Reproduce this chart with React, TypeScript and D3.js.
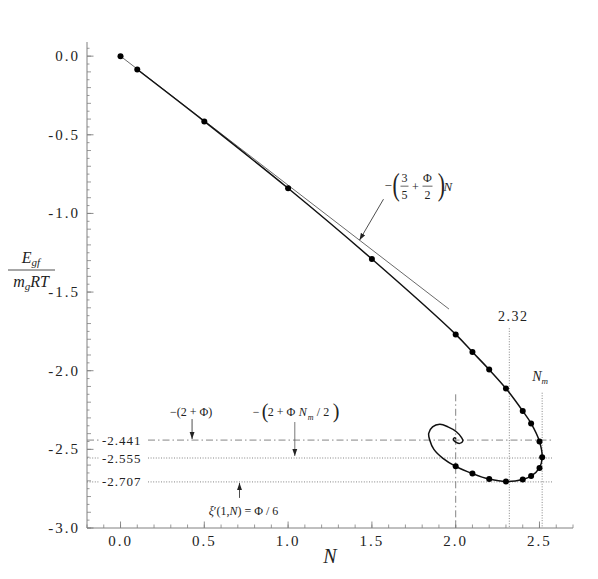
import React from "react";
import * as d3 from "d3";

// ---- data ----
const dotN = [0, 0.1, 0.5, 1.0, 1.5, 2.0, 2.1, 2.2, 2.3, 2.4, 2.45, 2.5, 2.516, 2.5, 2.45, 2.4, 2.3, 2.2, 2.1, 2.0];
const dotE = [0, -0.085, -0.415, -0.84, -1.29, -1.769, -1.881, -1.993, -2.113, -2.256, -2.335, -2.45, -2.55, -2.618, -2.67, -2.691, -2.705, -2.689, -2.654, -2.608];

// spiral continuation after the last dot
const spiralN = [1.924, 1.87, 1.845, 1.839, 1.862, 1.905, 1.954, 2.004, 2.034, 2.043, 2.024, 1.998, 1.986, 1.992, 2.003];
const spiralE = [-2.557, -2.5, -2.44, -2.399, -2.357, -2.341, -2.357, -2.388, -2.424, -2.446, -2.462, -2.452, -2.437, -2.427, -2.432];

// straight asymptote -(3/5+Φ/2)N
const tangentN = [0, 1.96];
const tangentE = [0, -1.608];

const refYValues = [-2.441, -2.555, -2.707];
const refYLabels = ["-2.441", "-2.555", "-2.707"];
const refYStyle = ["dashdot", "dot", "dot"];
const refXValues = [2.0, 2.32, 2.516];
const refXTop = [-2.15, -1.73, -2.14];
const refXStyle = ["dashdot", "dot", "dot"];

const xMajor = [0, 0.5, 1.0, 1.5, 2.0, 2.5];
const yMajor = [0, -0.5, -1.0, -1.5, -2.0, -2.5, -3.0];

const W = 598, H = 579;
const x = d3.scaleLinear().domain([-0.2, 2.7]).range([87, 573]);
const y = d3.scaleLinear().domain([-3.0, 0.09]).range([528, 42]);

const AX = "#808080";
const REF = "#777";
const serif = "'Liberation Serif', 'DejaVu Serif', serif";

export default function App() {
  const mainPts: [number, number][] = [];
  for (let i = 1; i < dotN.length; i++) mainPts.push([dotN[i], dotE[i]]);
  for (let i = 0; i < spiralN.length; i++) mainPts.push([spiralN[i], spiralE[i]]);
  const line = d3
    .line<[number, number]>()
    .x((d) => x(d[0]))
    .y((d) => y(d[1]))
    .curve(d3.curveCatmullRom.alpha(0.5));
  const mainPath = line(mainPts) || "";
  const tanPath =
    d3
      .line<[number, number]>()
      .x((d) => x(d[0]))
      .y((d) => y(d[1]))(tangentN.map((n, i) => [n, tangentE[i]])) || "";

  // ticks
  const xMinor: number[] = [];
  for (let k = -2; k <= 27; k++) xMinor.push(k / 10);
  const yMinor: number[] = [];
  for (let k = -60; k <= 1; k++) yMinor.push(k / 20);

  const dash = (s: string) => (s === "dashdot" ? "7,3,1.5,3" : "1,1.6");

  const x0 = x(-0.2);
  const yb = y(-3.0);

  // annotation anchors (data space)
  const a1 = { n: 1.426, e: -1.17 };
  const a2n = 0.427;
  const a3n = 1.04;
  const a4n = 0.71;

  const labelGapL = 100, labelGapR = 148;

  return (
    <svg width={W} height={H} style={{ display: "block", position: "absolute", left: 0, top: 0 }}>
      <defs>
        <marker id="ah" viewBox="0 0 10 10" refX="10" refY="5" markerWidth="7" markerHeight="7" orient="auto-start-reverse" markerUnits="userSpaceOnUse">
          <path d="M0,1.5 L10,5 L0,8.5 z" fill="#222" />
        </marker>
      </defs>
      <rect width={W} height={H} fill="#fff" />

      {/* reference horizontal lines */}
      {refYValues.map((v, i) => (
        <g key={"ry" + i} stroke={REF} strokeWidth={0.9} strokeDasharray={dash(refYStyle[i])}>
          <line x1={x0} x2={labelGapL} y1={y(v)} y2={y(v)} />
          <line x1={labelGapR} x2={x(2.7) - 20} y1={y(v)} y2={y(v)} />
        </g>
      ))}
      {refYValues.map((v, i) => (
        <text key={"ryl" + i} x={102} y={y(v) + 4.5} fontFamily={serif} fontSize={13} letterSpacing={1} fill="#222">
          {refYLabels[i]}
        </text>
      ))}
      {/* reference vertical lines */}
      {refXValues.map((v, i) => (
        <line key={"rx" + i} x1={x(v)} x2={x(v)} y1={y(refXTop[i])} y2={yb} stroke={REF} strokeWidth={0.9} strokeDasharray={dash(refXStyle[i])} />
      ))}
      <text x={x(2.32) + 4} y={y(-1.73) - 7} textAnchor="middle" fontFamily={serif} fontSize={14} letterSpacing={1.5} fill="#222">2.32</text>
      <text x={x(2.516) - 2} y={y(-2.14) - 12} textAnchor="middle" fontFamily={serif} fontSize={14} fill="#222">
        <tspan fontStyle="italic">N</tspan>
        <tspan fontStyle="italic" fontSize={9} dy={3}>m</tspan>
      </text>

      {/* tangent line */}
      <path d={tanPath} fill="none" stroke="#444" strokeWidth={0.8} />
      {/* main curve */}
      <path d={mainPath} fill="none" stroke="#111" strokeWidth={1.5} />
      {dotN.map((n, i) => (
        <circle key={"d" + i} cx={x(n)} cy={y(dotE[i])} r={3} fill="#000" />
      ))}

      {/* axes */}
      <line x1={x0} x2={x0} y1={y(0.09)} y2={yb} stroke={AX} strokeWidth={1} />
      <line x1={x0} x2={x(2.7)} y1={yb} y2={yb} stroke={AX} strokeWidth={1} />
      {xMinor.map((v, i) => (
        <line key={"xm" + i} x1={x(v)} x2={x(v)} y1={yb} y2={yb - 3.5} stroke={AX} strokeWidth={0.8} />
      ))}
      {xMajor.map((v, i) => (
        <g key={"xM" + i}>
          <line x1={x(v)} x2={x(v)} y1={yb} y2={yb - 6.5} stroke={AX} strokeWidth={0.9} />
          <text x={x(v)} y={yb + 18} textAnchor="middle" fontFamily={serif} fontSize={15} letterSpacing={2} fill="#222">
            {d3.format(".1f")(v)}
          </text>
        </g>
      ))}
      {yMinor.map((v, i) => {
        const isTenth = Math.abs(v * 10 - Math.round(v * 10)) < 1e-6;
        return <line key={"ym" + i} x1={x0} x2={x0 + (isTenth ? 4 : 2.5)} y1={y(v)} y2={y(v)} stroke={AX} strokeWidth={0.8} />;
      })}
      {yMajor.map((v, i) => (
        <g key={"yM" + i}>
          <line x1={x0} x2={x0 + 6.5} y1={y(v)} y2={y(v)} stroke={AX} strokeWidth={0.9} />
          <text x={80} y={y(v) + 5} textAnchor="end" fontFamily={serif} fontSize={15} letterSpacing={2} fill="#222">
            {d3.format(".1f")(v).replace("−", "-")}
          </text>
        </g>
      ))}
      {/* axis titles */}
      <text x={x(1.25)} y={563} textAnchor="middle" fontFamily={serif} fontStyle="italic" fontSize={20} fill="#222">N</text>
      <g fontFamily={serif} fontStyle="italic" fill="#222">
        <text x={31} y={263} textAnchor="middle" fontSize={16}>
          E<tspan fontSize={11} dy={3}>gf</tspan>
        </text>
        <line x1={8} x2={55} y1={270} y2={270} stroke="#222" strokeWidth={0.8} />
        <text x={31} y={287} textAnchor="middle" fontSize={16}>
          m<tspan fontSize={11} dy={3}>g</tspan><tspan dy={-3}>RT</tspan>
        </text>
      </g>

      {/* annotation 1: -(3/5 + Φ/2)N */}
      <line x1={x(a1.n) + 24} y1={y(a1.e) - 41} x2={x(a1.n)} y2={y(a1.e)} stroke="#222" strokeWidth={0.8} markerEnd="url(#ah)" />
      <g fontFamily={serif} fill="#222" transform={`translate(${x(a1.n) + 25},${y(a1.e) - 54})`}>
        <text x={0} y={4} fontSize={13}>−</text>
        <text x={8} y={9} fontSize={31} fontWeight={100} transform="scale(0.7,1) translate(3.5,0)">(</text>
        <text x={20} y={-4} fontSize={12} textAnchor="middle">3</text>
        <line x1={16} x2={24} y1={0} y2={0} stroke="#222" strokeWidth={0.7} />
        <text x={20} y={13} fontSize={12} textAnchor="middle">5</text>
        <text x={31} y={4.5} fontSize={12} textAnchor="middle">+</text>
        <text x={43} y={-4} fontSize={12} textAnchor="middle">Φ</text>
        <line x1={38} x2={48} y1={0} y2={0} stroke="#222" strokeWidth={0.7} />
        <text x={43} y={13} fontSize={12} textAnchor="middle">2</text>
        <text x={53} y={9} fontSize={31} fontWeight={100} transform="scale(0.7,1) translate(23,0)">)</text>
        <text x={59} y={5} fontSize={13} fontStyle="italic">N</text>
      </g>

      {/* annotation 2: -(2+Φ) */}
      <line x1={x(a2n)} x2={x(a2n)} y1={y(-2.441) - 21} y2={y(-2.441) - 1} stroke="#222" strokeWidth={0.8} markerEnd="url(#ah)" />
      <text x={x(a2n) - 1} y={y(-2.441) - 24} textAnchor="middle" fontFamily={serif} fontSize={12} fill="#222">−(2 + Φ)</text>

      {/* annotation 3: -(2+Φ N_m/2) */}
      <line x1={x(a3n)} x2={x(a3n)} y1={y(-2.555) - 36} y2={y(-2.555) - 2} stroke="#555" strokeWidth={0.8} markerEnd="url(#ah)" />
      <g fontFamily={serif} fontSize={12} fill="#222">
        <text x={x(a3n) - 42} y={y(-2.555) - 42}>−</text>
        <text x={x(a3n) - 33} y={y(-2.555) - 40} fontSize={20} fontWeight={100}>(</text>
        <text x={x(a3n) - 27} y={y(-2.555) - 42}>2 + Φ</text>
        <text x={x(a3n) + 4} y={y(-2.555) - 42} fontStyle="italic">N</text>
        <text x={x(a3n) + 13} y={y(-2.555) - 38} fontStyle="italic" fontSize={8}>m</text>
        <text x={x(a3n) + 22} y={y(-2.555) - 42}>/ 2</text>
        <text x={x(a3n) + 38} y={y(-2.555) - 40} fontSize={20} fontWeight={100}>)</text>
      </g>

      {/* annotation 4: ξ'(1,N) = Φ/6 */}
      <line x1={x(a4n)} x2={x(a4n)} y1={y(-2.707) + 16} y2={y(-2.707) + 1} stroke="#222" strokeWidth={0.8} markerEnd="url(#ah)" />
      <text x={x(a4n) + 4} y={y(-2.707) + 33} textAnchor="middle" fontFamily={serif} fontSize={12} fill="#222">
        <tspan fontStyle="italic">ξ</tspan>′(1,<tspan fontStyle="italic">N</tspan>) = Φ / 6
      </text>
    </svg>
  );
}
